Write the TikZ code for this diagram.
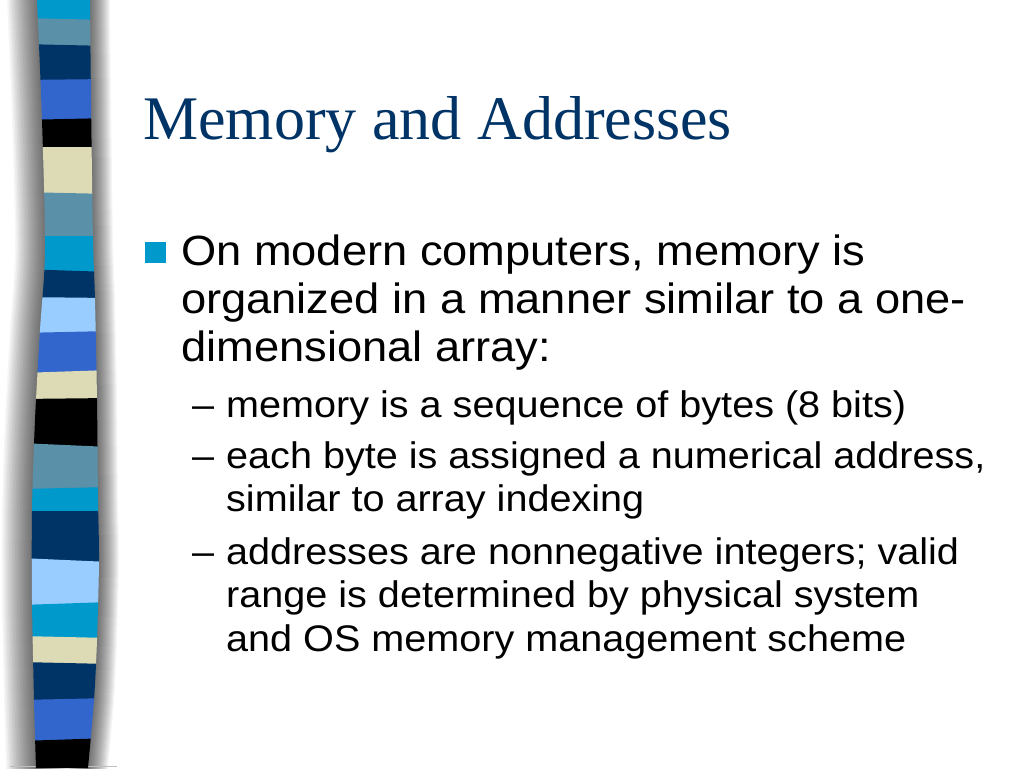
\documentclass[tikz,border=0pt]{standalone}
\usepackage{fontspec}
\newfontfamily\titlefont{Liberation Serif}
\newfontfamily\bodyfont[FakeStretch=1.07]{Liberation Sans}
\definecolor{pcyan}{HTML}{0099CC}
\definecolor{psteel}{HTML}{5A90A8}
\definecolor{pnavy}{HTML}{003366}
\definecolor{proyal}{HTML}{3366CC}
\definecolor{pcream}{HTML}{DDDBB6}
\definecolor{plight}{HTML}{99CCFF}
\tikzset{
  titletext/.style={anchor=base west, inner sep=0pt, text=pnavy, font=\titlefont\fontsize{62}{70}\selectfont},
  lvlone/.style={anchor=base west, inner sep=0pt, align=left, font=\bodyfont\fontsize{42.3}{48}\selectfont},
  lvltwo/.style={anchor=base west, inner sep=0pt, align=left, font=\bodyfont\fontsize{37}{43.5}\selectfont},
  sqbullet/.style={fill=pcyan, minimum size=21pt, inner sep=0pt},
}
\begin{document}
\begin{tikzpicture}[x=1pt,y=-1pt]
\useasboundingbox (0,0) rectangle (1024,768);
\fill[white] (0,0) rectangle (1024,768);
% shadow of the stripe
\foreach \w in {3,6,...,60}
  \draw[line width=\w pt, black, opacity=0.036]
    plot[smooth] coordinates {(37,-10) (37,0) (42,120) (45,250) (40,330) (35,420) (32,510) (32,600) (34,700) (36,768) (36,780)};
\foreach \w in {2,4,...,40}
  \draw[line width=\w pt, black, opacity=0.036]
    plot[smooth] coordinates {(90,-10) (90,0) (91,100) (93,240) (95,300) (97,400) (98,500) (99,560) (97,640) (94,700) (88,768) (88,780)};
\draw[black!25, line width=1pt] (10,766.5) -- (117,766.5);
% stripe
\begin{scope}
\clip plot[smooth] coordinates {(37,0) (42,120) (45,250) (40,330) (35,420) (32,510) (32,600) (34,700) (36,768)}
  -- plot[smooth] coordinates {(88,768) (94,700) (97,640) (99,560) (98,500) (97,400) (95,300) (93,240) (91,100) (90,0)} -- cycle;
\foreach \c/\a/\b/\cc/\d in {
  pcyan/0/0/18/20, psteel/18/20/44/46, pnavy/44/46/80/79, proyal/80/79/120/118,
  black/120/118/147/147, pcream/147/147/192/194, psteel/192/194/236/236,
  pcyan/236/236/269/272, pnavy/269/272/297/298, plight/297/298/333/331,
  proyal/333/331/373/370, pcream/373/370/399/398, black/399/398/443/447,
  psteel/443/447/489/487, pcyan/489/487/511/511, pnavy/511/511/558/562,
  plight/558/562/605/602, pcyan/605/602/636/638, pcream/636/638/662/664,
  pnavy/662/664/700/698, proyal/700/698/741/738, black/741/738/770/770}
  \fill[\c] (20,\a) -- (110,\b) -- (110,\d+0.6) -- (20,\cc+0.6) -- cycle;
\end{scope}
% title
\node[titletext] (title) at (143,139) {Memory and Addresses};
% bullet (multi-line nodes are placed by the baseline of their last line)
\node[sqbullet] (bul) at (155.5,252.5) {};
\node[lvlone] (item) at (181,361) {On modern computers, memory is\\organized in a manner similar to a one-\\dimensional array:};
% sub-items
\node[lvltwo] (d1) at (192,417) {–};
\node[lvltwo] (s1) at (226,417) {memory is a sequence of bytes (8 bits)};
\node[lvltwo] (d2) at (192,468) {–};
\node[lvltwo] (s2) at (226,511.5) {each byte is assigned a numerical address,\\similar to array indexing};
\node[lvltwo] (d3) at (192,564) {–};
\node[lvltwo] (s3) at (226,651) {addresses are nonnegative integers; valid\\range is determined by physical system\\and OS memory management scheme};
\end{tikzpicture}
\end{document}
